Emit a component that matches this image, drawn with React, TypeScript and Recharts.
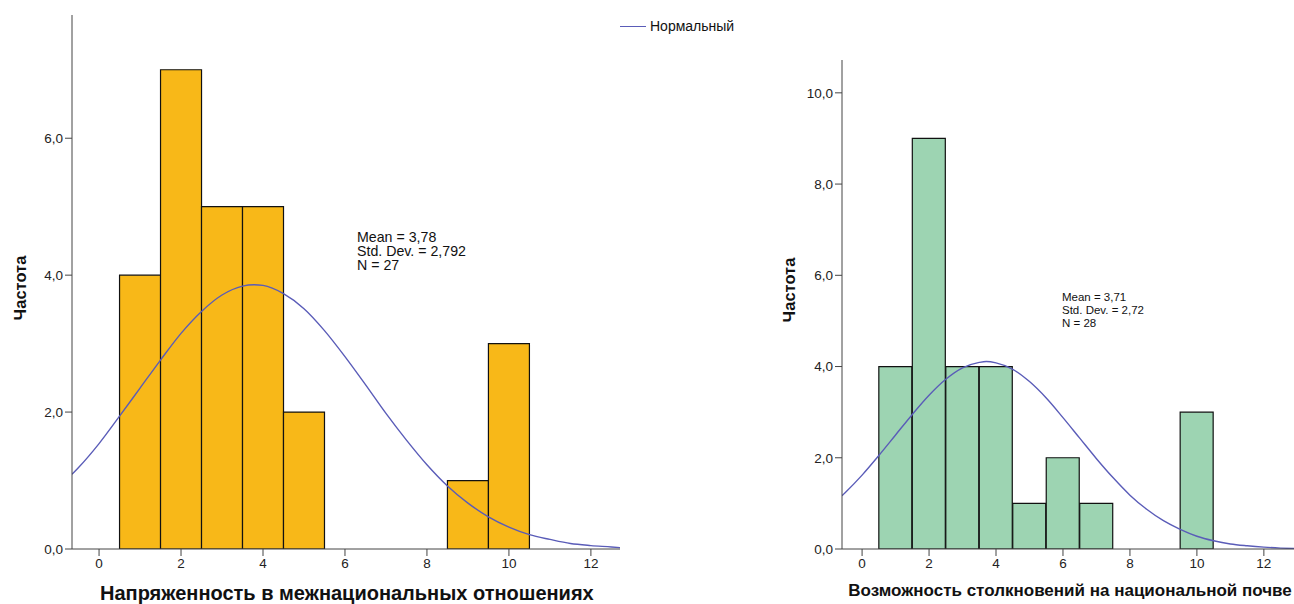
import { ComposedChart, Bar, Line, XAxis, YAxis } from 'recharts';

// Histogram 1: Напряженность в межнациональных отношениях
const leftBins = [1, 2, 3, 4, 5, 9, 10];
const leftCounts = [4, 7, 5, 5, 2, 1, 3];
const leftCurveX = [-0.66, -0.5, 0, 0.5, 1, 1.5, 2, 2.5, 3, 3.5, 3.78, 4, 4.5, 5, 5.5, 6, 6.5, 7, 7.5, 8, 8.5, 9, 9.5, 10, 10.5, 11, 11.5, 12, 12.5, 12.71];
const leftCurveY = [1.09, 1.19, 1.54, 1.94, 2.35, 2.76, 3.15, 3.47, 3.71, 3.84, 3.86, 3.85, 3.73, 3.51, 3.19, 2.81, 2.4, 1.98, 1.59, 1.23, 0.92, 0.67, 0.47, 0.32, 0.21, 0.14, 0.08, 0.05, 0.03, 0.02];
const leftStats = ['Mean = 3,78', 'Std. Dev. = 2,792', 'N = 27'];

// Histogram 2: Возможность столкновений на национальной почве
const rightBins = [1, 2, 3, 4, 5, 6, 7, 10];
const rightCounts = [4, 9, 4, 4, 1, 2, 1, 3];
const rightCurveX = [-0.6, -0.5, 0, 0.5, 1, 1.5, 2, 2.5, 3, 3.5, 3.71, 4, 4.5, 5, 5.5, 6, 6.5, 7, 7.5, 8, 8.5, 9, 9.5, 10, 10.5, 11, 11.5, 12, 12.5, 12.9];
const rightCurveY = [1.17, 1.24, 1.62, 2.05, 2.5, 2.95, 3.37, 3.72, 3.97, 4.09, 4.11, 4.08, 3.94, 3.67, 3.31, 2.88, 2.43, 1.98, 1.56, 1.18, 0.87, 0.62, 0.43, 0.28, 0.18, 0.11, 0.07, 0.04, 0.02, 0.01];
const rightStats = ['Mean = 3,71', 'Std. Dev. = 2,72', 'N = 28'];

const xTicks = [0, 2, 4, 6, 8, 10, 12];
const leftYTicks = [0, 2, 4, 6];
const rightYTicks = [0, 2, 4, 6, 8, 10];

const leftBarData = leftBins.map((x, i) => ({ x, count: leftCounts[i] }));
const leftCurveData = leftCurveX.map((x, i) => ({ x, y: leftCurveY[i] }));
const rightBarData = rightBins.map((x, i) => ({ x, count: rightCounts[i] }));
const rightCurveData = rightCurveX.map((x, i) => ({ x, y: rightCurveY[i] }));

const FONT = '"Liberation Sans", Arial, sans-serif';
const CURVE = '#5a5cb8';
const AXIS = '#444';
const fmt = (v: number) => v.toFixed(1).replace('.', ',');
const tickStyle = { fill: '#222', fontSize: 13.5, fontFamily: FONT };

function Histogram({ bars, curve, fill, xDomain, yDomain, yTicks, width, margin, yWidth }: any) {
  return (
    <ComposedChart width={width} height={604} data={bars} margin={margin} barCategoryGap={0}>
      <XAxis
        dataKey="x"
        type="number"
        domain={xDomain}
        ticks={xTicks}
        allowDataOverflow
        height={30}
        tickSize={7}
        tickMargin={2}
        stroke={AXIS}
        tick={tickStyle}
      />
      <XAxis xAxisId="curve" dataKey="x" type="number" domain={xDomain} allowDataOverflow hide />
      <YAxis
        type="number"
        domain={yDomain}
        ticks={yTicks}
        allowDataOverflow
        width={yWidth}
        tickSize={7}
        tickMargin={2}
        stroke={AXIS}
        tick={tickStyle}
        tickFormatter={fmt}
      />
      <Bar dataKey="count" fill={fill} stroke="#111" strokeWidth={1.2} isAnimationActive={false} />
      <Line
        xAxisId="curve"
        data={curve}
        dataKey="y"
        type="monotone"
        stroke={CURVE}
        strokeWidth={1.4}
        dot={false}
        activeDot={false}
        isAnimationActive={false}
      />
    </ComposedChart>
  );
}

const abs = (left: number, top: number, extra: any = {}) => ({ position: 'absolute' as const, left, top, ...extra });

export default function App() {
  return (
    <div style={{ position: 'absolute', left: 0, top: 0, width: 1294, height: 604, background: '#fff', fontFamily: FONT, color: '#111', overflow: 'hidden' }}>
      <div style={abs(0, 0)}>
        <Histogram
          bars={leftBarData}
          curve={leftCurveData}
          fill="#f8b818"
          xDomain={[-0.66, 12.71]}
          yDomain={[0, 7.8]}
          yTicks={leftYTicks}
          width={760}
          margin={{ top: 15, right: 140, bottom: 25, left: 22 }}
          yWidth={50}
        />
      </div>
      <div style={abs(760, 0)}>
        <Histogram
          bars={rightBarData}
          curve={rightCurveData}
          fill="#9dd4b2"
          xDomain={[-0.6, 12.9]}
          yDomain={[0, 10.72]}
          yTicks={rightYTicks}
          width={534}
          margin={{ top: 60, right: 0, bottom: 25, left: 30 }}
          yWidth={52}
        />
      </div>

      {/* legend */}
      <div style={abs(620, 18, { display: 'flex', alignItems: 'center', fontSize: 14 })}>
        <span style={{ display: 'inline-block', width: 26, height: 0, borderTop: `1.5px solid ${CURVE}`, marginRight: 4 }} />
        <span>Нормальный</span>
      </div>

      {/* stats */}
      <div style={abs(357, 230, { fontSize: 14.2, lineHeight: '14px' })}>
        {leftStats.map((s) => <div key={s}>{s}</div>)}
      </div>
      <div style={abs(1062, 291, { fontSize: 11.5, lineHeight: '13px' })}>
        {rightStats.map((s) => <div key={s}>{s}</div>)}
      </div>

      {/* axis titles */}
      <div style={abs(100, 582, { width: 490, textAlign: 'center', fontSize: 20, fontWeight: 'bold', whiteSpace: 'nowrap' })}>
        Напряженность в межнациональных отношениях
      </div>
      <div style={abs(846, 581, { width: 448, textAlign: 'center', fontSize: 17, fontWeight: 'bold', whiteSpace: 'nowrap' })}>
        Возможность столкновений на национальной почве
      </div>
      <div style={abs(20, 288, { transform: 'translate(-50%, -50%) rotate(-90deg)', fontSize: 16.5, fontWeight: 'bold' })}>
        Частота
      </div>
      <div style={abs(789, 290, { transform: 'translate(-50%, -50%) rotate(-90deg)', fontSize: 16.5, fontWeight: 'bold' })}>
        Частота
      </div>
    </div>
  );
}
